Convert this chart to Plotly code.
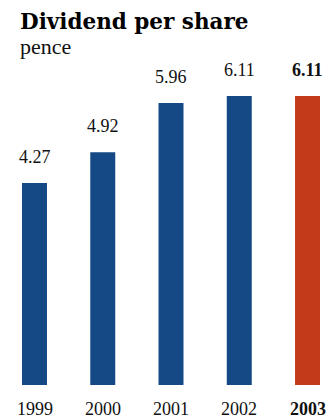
import plotly.graph_objects as go

years = ["1999", "2000", "2001", "2002", "2003"]
values = [4.27, 4.92, 5.96, 6.11, 6.11]
value_labels = ["4.27", "4.92", "5.96", "6.11", "6.11"]
bar_colors = ["#154985", "#154985", "#154985", "#154985", "#c23a19"]
highlight = [False, False, False, False, True]

xs = list(range(len(years)))
FONT = "Liberation Serif"

fig = go.Figure()
fig.add_trace(go.Bar(
    x=xs, y=values, width=0.366,
    marker=dict(color=bar_colors, line=dict(width=0)),
    hoverinfo="skip",
))

annotations = []
for i, (v, lab, yr, hl) in enumerate(zip(values, value_labels, years, highlight)):
    annotations.append(dict(
        x=i, y=v, xref="x", yref="y", text=f"<b>{lab}</b>" if hl else lab,
        showarrow=False, yanchor="bottom", yshift=14,
        font=dict(family=FONT, size=18, color="#111111"),
    ))
    annotations.append(dict(
        x=i, y=0, xref="x", yref="y", text=f"<b>{yr}</b>" if hl else yr,
        showarrow=False, yanchor="top", yshift=-12,
        font=dict(family=FONT, size=18, color="#111111"),
    ))

annotations.append(dict(
    x=0.054, y=1, xref="paper", yref="paper", xanchor="left", yanchor="bottom",
    yshift=24, text="<b>Dividend per share</b>", showarrow=False,
    font=dict(family="DejaVu Serif", size=21.5, color="#000000"),
))
annotations.append(dict(
    x=0.055, y=1, xref="paper", yref="paper", xanchor="left", yanchor="bottom",
    yshift=-1, text="pence", showarrow=False,
    font=dict(family=FONT, size=22, color="#111111"),
))

fig.update_layout(
    width=334, height=420,
    margin=dict(l=0, r=0, t=60, b=35),
    paper_bgcolor="white", plot_bgcolor="white",
    showlegend=False,
    xaxis=dict(range=[-0.5055, 4.388], visible=False, fixedrange=True),
    yaxis=dict(range=[0, 6.871], visible=False, fixedrange=True),
    annotations=annotations,
)

fig.write_html("out.html", config={"displayModeBar": False})
